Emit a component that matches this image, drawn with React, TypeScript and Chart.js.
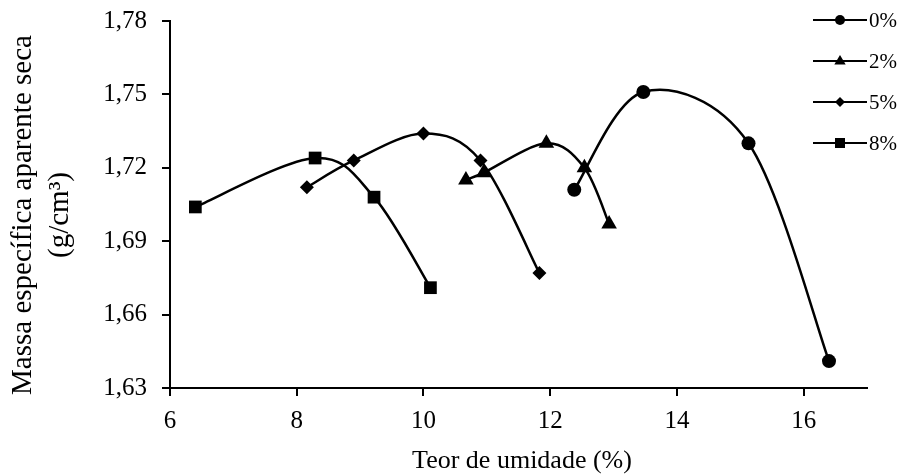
import { useEffect, useRef } from "react";
import { Chart, registerables } from "chart.js";

Chart.register(...registerables);

// Compaction curves: moisture content (%) vs. dry apparent specific mass (g/cm³)
const seriesLabels = ["0%", "2%", "5%", "8%"];

const moisture0 = [12.38, 13.47, 15.13, 16.4];
const density0 = [1.711, 1.751, 1.73, 1.641];

const moisture2 = [10.67, 10.95, 11.94, 12.54, 12.93];
const density2 = [1.715, 1.718, 1.73, 1.72, 1.697];

const moisture5 = [8.16, 8.9, 10.0, 10.9, 11.83];
const density5 = [1.712, 1.723, 1.734, 1.723, 1.677];

const moisture8 = [6.4, 8.29, 9.22, 10.11];
const density8 = [1.704, 1.724, 1.708, 1.671];

const xTicks = [6, 8, 10, 12, 14, 16];
const yTicks = [1.63, 1.66, 1.69, 1.72, 1.75, 1.78];

const xTitle = "Teor de umidade (%)";
const yTitle = ["Massa específica aparente seca", "(g/cm³)"];

const FONT = '"Liberation Serif", "Times New Roman", serif';
const pointStyles = ["circle", "triangle", "rectRot", "rect"] as const;
const pointRadii = [7, 9, 7, 9];

function toPoints(xs: number[], ys: number[]) {
  return xs.map((x, i) => ({ x, y: ys[i] }));
}

function drawMarker(ctx: CanvasRenderingContext2D, style: string, x: number, y: number, s: number) {
  ctx.beginPath();
  if (style === "circle") {
    ctx.arc(x, y, s, 0, Math.PI * 2);
  } else if (style === "triangle") {
    ctx.moveTo(x, y - s);
    ctx.lineTo(x + s * 0.95, y + s * 0.6);
    ctx.lineTo(x - s * 0.95, y + s * 0.6);
    ctx.closePath();
  } else if (style === "rectRot") {
    ctx.moveTo(x, y - s);
    ctx.lineTo(x + s, y);
    ctx.lineTo(x, y + s);
    ctx.lineTo(x - s, y);
    ctx.closePath();
  } else {
    ctx.rect(x - s, y - s, 2 * s, 2 * s);
  }
  ctx.fill();
}

// Uniform Catmull-Rom smoothing of each series (spreadsheet-style smoothed lines)
const smoothing = {
  id: "smoothing",
  beforeDatasetDraw(chart: any, args: any) {
    const meta = chart.getDatasetMeta(args.index);
    const line = meta.dataset;
    const pts = meta.data;
    const n = pts.length;
    const k = 1 / 6;
    for (let i = 0; i < n; i++) {
      const p = pts[i];
      const prev = pts[Math.max(0, i - 1)];
      const next = pts[Math.min(n - 1, i + 1)];
      const tx = (next.x - prev.x) * k;
      const ty = (next.y - prev.y) * k;
      p.cp1x = p.x - tx;
      p.cp1y = p.y - ty;
      p.cp2x = p.x + tx;
      p.cp2y = p.y + ty;
    }
    if (line) line._pointsUpdated = true;
  },
};

const annotations = {
  id: "annotations",
  afterDraw(chart: any) {
    const ctx: CanvasRenderingContext2D = chart.ctx;
    ctx.save();
    ctx.fillStyle = "#000";
    ctx.strokeStyle = "#000";

    // axis titles
    ctx.textAlign = "center";
    ctx.textBaseline = "middle";
    ctx.font = `26px ${FONT}`;
    ctx.fillText(xTitle, 522, 461);

    ctx.save();
    ctx.font = `29px ${FONT}`;
    ctx.translate(23, 215);
    ctx.rotate(-Math.PI / 2);
    ctx.fillText(yTitle[0], 0, 0);
    ctx.fillText(yTitle[1], 0, 37);
    ctx.restore();

    // legend: line with marker, then label
    ctx.font = `21px ${FONT}`;
    ctx.textAlign = "left";
    const legendMarker = [5, 6, 5, 5];
    seriesLabels.forEach((label, i) => {
      const y = 20 + i * 41;
      ctx.lineWidth = 2;
      ctx.beginPath();
      ctx.moveTo(813, y);
      ctx.lineTo(867, y);
      ctx.stroke();
      drawMarker(ctx, pointStyles[i], 840, y, legendMarker[i]);
      ctx.fillText(label, 869, y + 1);
    });
    ctx.restore();
  },
};

export default function App() {
  const canvasRef = useRef<HTMLCanvasElement | null>(null);

  useEffect(() => {
    const canvas = canvasRef.current;
    if (!canvas) return;

    const series = [
      toPoints(moisture0, density0),
      toPoints(moisture2, density2),
      toPoints(moisture5, density5),
      toPoints(moisture8, density8),
    ];

    const chart = new Chart(canvas, {
      type: "line",
      data: {
        datasets: series.map((data, i) => ({
          label: seriesLabels[i],
          data,
          borderColor: "#000",
          backgroundColor: "#000",
          borderWidth: 2.5,
          tension: 0.4,
          fill: false,
          pointStyle: pointStyles[i],
          pointRadius: pointRadii[i],
          pointBackgroundColor: "#000",
          pointBorderColor: "#000",
          pointBorderWidth: 0,
        })),
      },
      options: {
        responsive: false,
        animation: false,
        layout: { padding: { left: 0, top: 21, right: 33, bottom: 0 } },
        plugins: {
          legend: { display: false },
          tooltip: { enabled: false },
        },
        scales: {
          x: {
            type: "linear",
            min: 6,
            max: 17,
            afterBuildTicks: (scale: any) => {
              scale.ticks = xTicks.map((value) => ({ value }));
            },
            afterFit: (scale: any) => {
              scale.height = 86;
              scale.paddingLeft = 0;
              scale.paddingRight = 0;
            },
            border: { display: true, color: "#000", width: 2 },
            grid: {
              drawOnChartArea: false,
              drawTicks: true,
              tickLength: 8,
              color: "#000",
              lineWidth: 2,
            },
            ticks: {
              color: "#000",
              padding: 10,
              maxRotation: 0,
              font: { family: FONT, size: 25 },
              callback: (v: any) => String(v),
            },
          },
          y: {
            type: "linear",
            min: 1.63,
            max: 1.78,
            afterBuildTicks: (scale: any) => {
              scale.ticks = yTicks.map((value) => ({ value }));
            },
            afterFit: (scale: any) => {
              scale.width = 170;
              scale.paddingTop = 0;
              scale.paddingBottom = 0;
            },
            border: { display: true, color: "#000", width: 2 },
            grid: {
              drawOnChartArea: false,
              drawTicks: true,
              tickLength: 8,
              color: "#000",
              lineWidth: 2,
            },
            ticks: {
              color: "#000",
              padding: 15,
              font: { family: FONT, size: 25 },
              callback: (v: any) => Number(v).toFixed(2).replace(".", ","),
            },
          },
        },
      },
      plugins: [smoothing, annotations],
    });

    return () => chart.destroy();
  }, []);

  return (
    <div style={{ position: "absolute", left: 0, top: 0, width: 900, height: 474, background: "#fff" }}>
      <canvas ref={canvasRef} width={900} height={474} />
    </div>
  );
}
